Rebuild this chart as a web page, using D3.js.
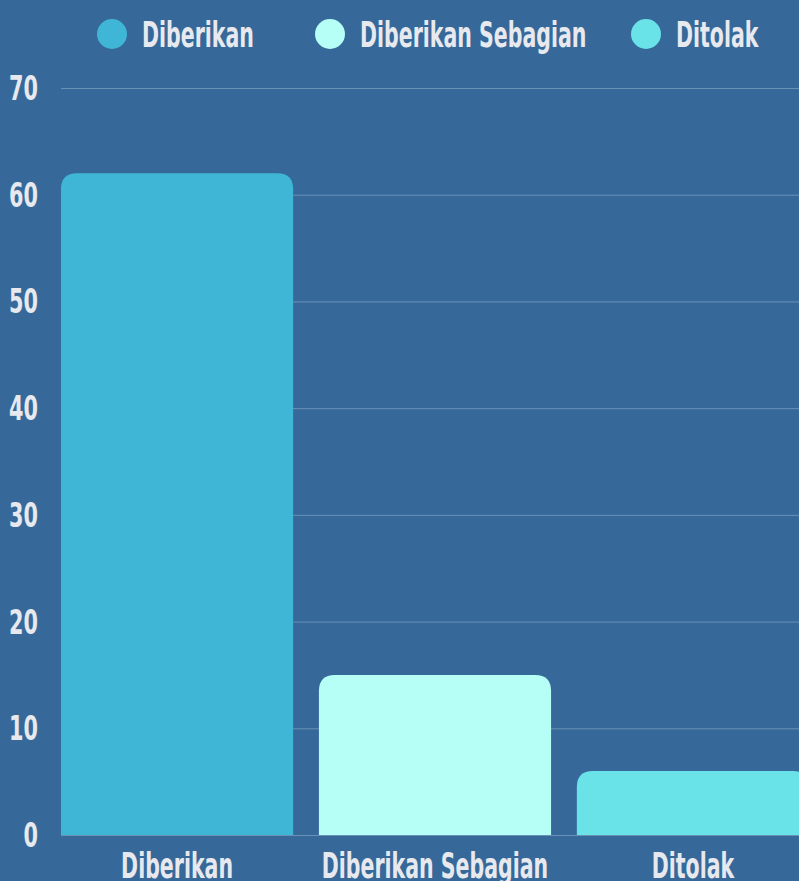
<!DOCTYPE html>
<html>
<head>
<meta charset="utf-8">
<script src="https://cdn.jsdelivr.net/npm/d3@7"></script>
<style>
  html, body { margin: 0; padding: 0; background: #36699a; overflow: hidden; }
  svg { display: block; }
  .lbl { font-family: "DejaVu Sans", sans-serif; font-weight: bold; fill: #e8e9ee; }
</style>
</head>
<body>
<div id="chart"></div>
<script>
var categories = ["Diberikan", "Diberikan Sebagian", "Ditolak"];
var values = [62, 15, 6];
var colors = ["#40b6d6", "#b6fff7", "#69e3e8"];
var yTicks = [0, 10, 20, 30, 40, 50, 60, 70];

var W = 799, H = 881;
var margin = { top: 88, left: 61, bottom: 46 };
var plotH = H - margin.top - margin.bottom;
var squeeze = 0.57;

var svg = d3.select("#chart").append("svg")
  .attr("width", W)
  .attr("height", H);

svg.append("rect").attr("width", W).attr("height", H).attr("fill", "#36699a");

var x = d3.scaleBand()
  .domain(categories)
  .range([margin.left, 809])
  .paddingInner(0.1)
  .paddingOuter(0);

var y = d3.scaleLinear()
  .domain([0, 70])
  .range([margin.top + plotH, margin.top]);

/* grid */
svg.append("g").selectAll("line")
  .data(yTicks)
  .enter().append("line")
  .attr("x1", margin.left)
  .attr("x2", W)
  .attr("y1", function(d) { return y(d) + 0.5; })
  .attr("y2", function(d) { return y(d) + 0.5; })
  .attr("stroke", "#6a90b6")
  .attr("stroke-width", 1);

/* y labels */
svg.append("g").selectAll("text")
  .data(yTicks)
  .enter().append("text")
  .attr("class", "lbl")
  .attr("transform", function(d) { return "translate(38," + (y(d) + 12) + ") scale(0.63,1)"; })
  .attr("text-anchor", "end")
  .attr("font-size", 33)
  .text(function(d) { return d; });

/* bars with rounded top corners */
function topRounded(x0, y0, w, h, r) {
  r = Math.min(r, h, w / 2);
  return "M" + x0 + "," + (y0 + h) +
    "V" + (y0 + r) +
    "Q" + x0 + "," + y0 + " " + (x0 + r) + "," + y0 +
    "H" + (x0 + w - r) +
    "Q" + (x0 + w) + "," + y0 + " " + (x0 + w) + "," + (y0 + r) +
    "V" + (y0 + h) + "Z";
}

svg.append("g").selectAll("path")
  .data(values)
  .enter().append("path")
  .attr("fill", function(d, i) { return colors[i]; })
  .attr("d", function(d, i) {
    var bx = x(categories[i]);
    return topRounded(bx, y(d), x.bandwidth(), y(0) - y(d), 16);
  });

/* x labels */
svg.append("g").selectAll("text")
  .data(categories)
  .enter().append("text")
  .attr("class", "lbl")
  .attr("transform", function(d) {
    return "translate(" + (x(d) + x.bandwidth() / 2) + ",878) scale(" + squeeze + ",1)";
  })
  .attr("text-anchor", "middle")
  .attr("font-size", 36)
  .text(function(d) { return d; });

/* legend */
var legendX = [112, 330, 646];
var leg = svg.append("g").selectAll("g")
  .data(categories)
  .enter().append("g")
  .attr("transform", function(d, i) { return "translate(" + legendX[i] + ",34)"; });
leg.append("circle")
  .attr("r", 15)
  .attr("fill", function(d, i) { return colors[i]; });
leg.append("text")
  .attr("class", "lbl")
  .attr("transform", "translate(30,13) scale(" + squeeze + ",1)")
  .attr("font-size", 36)
  .text(function(d) { return d; });
</script>
</body>
</html>
